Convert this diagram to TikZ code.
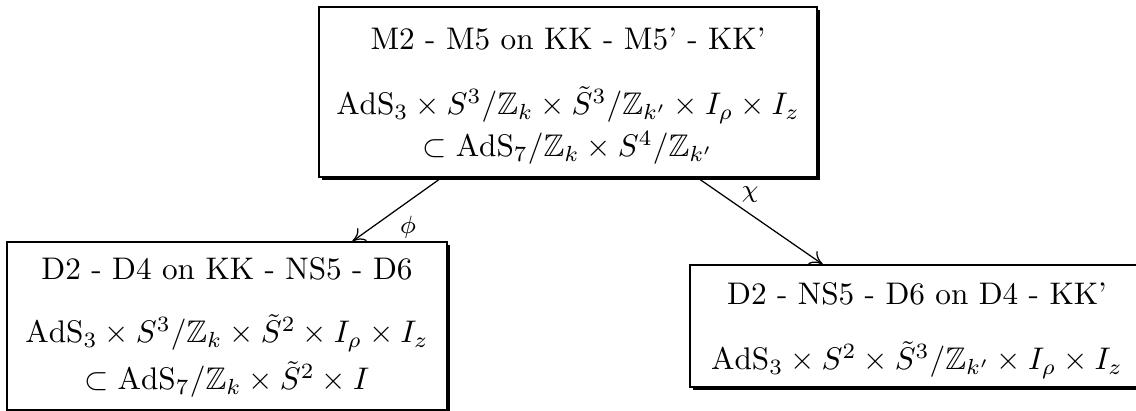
\documentclass[tikz,border=0pt]{standalone}
\usepackage{amssymb}
\usetikzlibrary{shadows,calc,arrows.meta}
\begin{document}
\begin{tikzpicture}[x=0.32pt,y=-0.32pt,
  box/.style={draw, line width=0.4pt, fill=white, rectangle, inner sep=0pt,
    drop shadow={shadow xshift=1pt, shadow yshift=-1pt, fill=black, opacity=1}},
  txt/.style={anchor=base, inner sep=0pt},
  conn/.style={-{To[length=4pt,width=5pt]}, line width=0.4pt},
  lbl/.style={inner sep=0pt, font=\footnotesize}]
\useasboundingbox (0,0) rectangle (1136,411);
% boxes
\node[box, minimum width=159.36pt, minimum height=54.4pt] (top) at (568,92) {};
\node[box, minimum width=140.8pt, minimum height=53.76pt] (left) at (227,326) {};
\node[box, minimum width=145.28pt, minimum height=39.04pt] (right) at (917,326) {};
% texts
\node[txt] (t1) at (568,50) {M2 - M5 on KK - M5' - KK'};
\node[txt] (t2) at (568,115) {$\mathrm{AdS}_3\times S^3/\mathbb{Z}_k\times\tilde{S}^3/\mathbb{Z}_{k'}\times I_\rho\times I_z$};
\node[txt] (t3) at (568,157) {$\subset\mathrm{AdS}_7/\mathbb{Z}_k\times S^4/\mathbb{Z}_{k'}$};
\node[txt] (l1) at (227,280) {D2 - D4 on KK - NS5 - D6};
\node[txt] (l2) at (227,343) {$\mathrm{AdS}_3\times S^3/\mathbb{Z}_k\times\tilde{S}^2\times I_\rho\times I_z$};
\node[txt] (l3) at (227,390) {$\subset\mathrm{AdS}_7/\mathbb{Z}_k\times\tilde{S}^2\times I$};
\node[txt] (r1) at (917,305) {D2 - NS5 - D6 on D4 - KK'};
\node[txt] (r2) at (917,370) {$\mathrm{AdS}_3\times S^2\times\tilde{S}^3/\mathbb{Z}_{k'}\times I_\rho\times I_z$};
% connectors
\draw[conn] ($(top.south west)!0.247!(top.south east)$) -- ($(left.north west)!0.784!(left.north east)$);
\draw[conn] ($(top.south west)!0.759!(top.south east)$) -- ($(right.north west)!0.293!(right.north east)$);
\node[lbl] (phi) at (408,227) {$\phi$};
\node[lbl] (chi) at (750,195) {$\chi$};
\end{tikzpicture}
\end{document}
